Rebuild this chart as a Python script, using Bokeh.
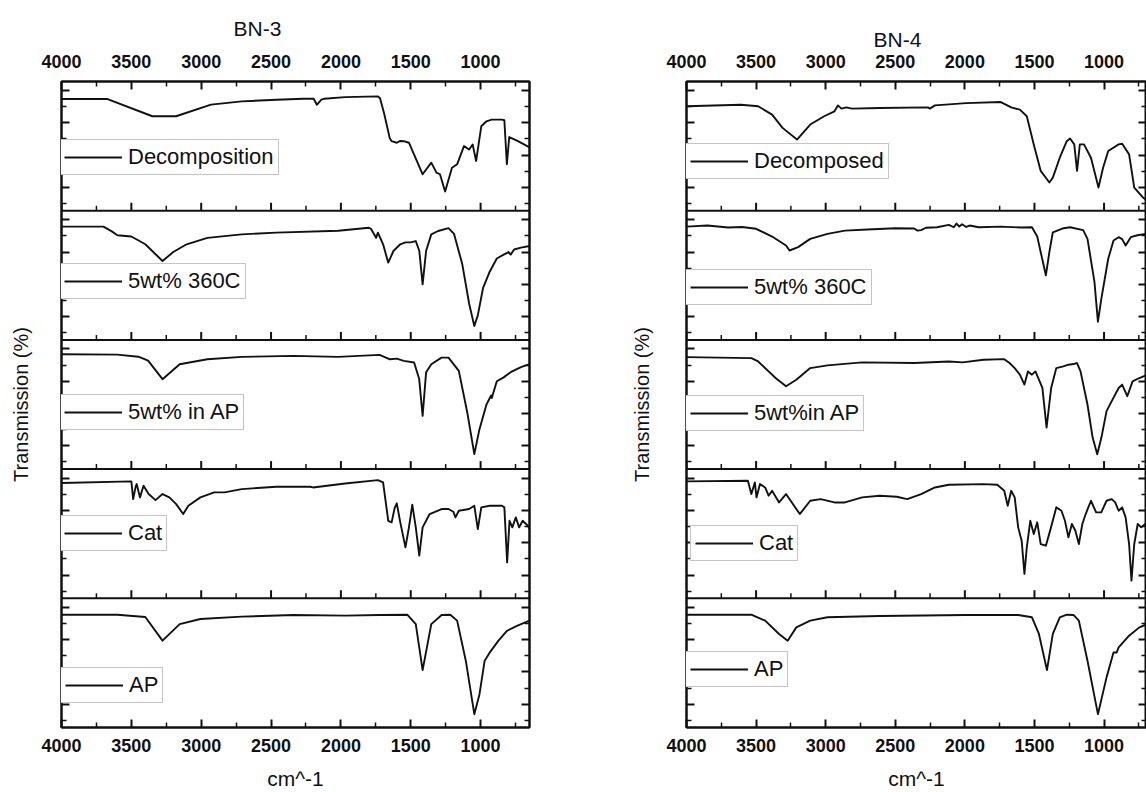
from bokeh.plotting import figure
from bokeh.models import (Range1d, LinearAxis, FixedTicker, Legend, LegendItem,
                          Span, CustomJSTickFormatter)
from bokeh.layouts import row
from bokeh.embed import file_html
from bokeh.resources import INLINE

# ---------------------------------------------------------------------------
# FTIR spectra: wavenumber (cm^-1) and relative transmission inside each strip
# ---------------------------------------------------------------------------

# BN-3
bn3_decomp_wn = [4000, 3670, 3350, 3180, 2930, 2710, 2460, 2270, 2195, 2172, 2140, 2118, 1970, 1735,
                 1720, 1690, 1650, 1637, 1600, 1575, 1550, 1513, 1415, 1353, 1316, 1291, 1254, 1205,
                 1168, 1119, 1082, 1057, 1032, 995, 958, 921, 847, 830, 812, 795, 736, 650]
bn3_decomp_t = [0.864, 0.864, 0.731, 0.731, 0.821, 0.846, 0.859, 0.867, 0.867, 0.82, 0.86, 0.867, 0.879, 0.885,
                0.87, 0.75, 0.56, 0.538, 0.526, 0.54, 0.538, 0.526, 0.282, 0.372, 0.295, 0.282, 0.149, 0.333,
                0.359, 0.5, 0.474, 0.513, 0.385, 0.654, 0.692, 0.705, 0.705, 0.70, 0.36, 0.57, 0.54, 0.49]

bn3_360c_wn = [4000, 3700, 3640, 3600, 3500, 3400, 3277, 3200, 3104, 2956, 2710, 2463, 2019, 1800, 1785,
               1748, 1735, 1698, 1661, 1624, 1575, 1538, 1501, 1464, 1439, 1415, 1390, 1353, 1304, 1230,
               1190, 1131, 1082, 1045, 1020, 983, 934, 884, 835, 800, 785, 760, 711, 650]
bn3_360c_t = [0.877, 0.877, 0.84, 0.81, 0.80, 0.74, 0.611, 0.68, 0.74, 0.79, 0.817, 0.83, 0.845, 0.868, 0.86,
              0.79, 0.83, 0.74, 0.598, 0.688, 0.74, 0.755, 0.755, 0.765, 0.69, 0.43, 0.69, 0.817, 0.843, 0.865,
              0.82, 0.585, 0.28, 0.108, 0.19, 0.40, 0.53, 0.63, 0.66, 0.68, 0.66, 0.70, 0.714, 0.727]

bn3_inap_wn = [4000, 3600, 3450, 3380, 3277, 3154, 2956, 2710, 2340, 2019, 1723, 1649, 1600, 1550, 1476,
               1440, 1415, 1390, 1353, 1280, 1230, 1156, 1094, 1045, 1010, 958, 925, 920, 884, 835,
               785, 711, 650]
bn3_inap_t = [0.889, 0.886, 0.87, 0.84, 0.696, 0.812, 0.85, 0.869, 0.876, 0.869, 0.884, 0.85, 0.855, 0.838, 0.825,
              0.70, 0.412, 0.75, 0.812, 0.863, 0.863, 0.76, 0.43, 0.116, 0.30, 0.50, 0.57, 0.55, 0.68, 0.71,
              0.75, 0.79, 0.812]

bn3_cat_wn = [4000, 3500, 3487, 3470, 3462, 3438, 3413, 3376, 3327, 3277, 3228, 3179, 3129, 3092, 3006,
              2907, 2833, 2710, 2463, 2220, 2200, 1970, 1735, 1698, 1661, 1637, 1615, 1600, 1575, 1538,
              1513, 1489, 1464, 1439, 1415, 1365, 1279, 1230, 1195, 1180, 1156, 1082, 1045, 1020, 995,
              934, 847, 830, 810, 793, 773, 748, 724, 699, 662, 650]
bn3_cat_t = [0.892, 0.905, 0.768, 0.86, 0.884, 0.781, 0.871, 0.807, 0.76, 0.807, 0.781, 0.729, 0.652, 0.716, 0.781,
             0.82, 0.82, 0.845, 0.863, 0.863, 0.858, 0.889, 0.915, 0.897, 0.60, 0.588, 0.70, 0.735, 0.588, 0.394,
             0.549, 0.724, 0.549, 0.33, 0.549, 0.652, 0.691, 0.691, 0.67, 0.626, 0.678, 0.691, 0.716, 0.536, 0.704,
             0.716, 0.716, 0.704, 0.278, 0.60, 0.549, 0.626, 0.549, 0.60, 0.562, 0.536]

bn3_ap_wn = [4000, 3600, 3400, 3277, 3154, 3006, 2710, 2340, 1970, 1723, 1525, 1464, 1415, 1353, 1279,
             1217, 1168, 1106, 1045, 1008, 971, 934, 872, 810, 736, 650]
bn3_ap_t = [0.873, 0.873, 0.855, 0.672, 0.80, 0.84, 0.858, 0.871, 0.866, 0.871, 0.873, 0.80, 0.444, 0.80, 0.871,
            0.873, 0.827, 0.517, 0.103, 0.258, 0.517, 0.581, 0.672, 0.749, 0.788, 0.827]

# BN-4
bn4_decomp_wn = [4000, 3609, 3485, 3385, 3310, 3206, 3111, 3011, 2937, 2912, 2887, 2850, 2812, 2613, 2265,
                 2252, 2215, 1991, 1742, 1667, 1605, 1555, 1505, 1455, 1393, 1368, 1318, 1268, 1244, 1214,
                 1194, 1174, 1144, 1094, 1040, 1007, 970, 895, 870, 820, 783, 721, 690]
bn4_decomp_t = [0.808, 0.82, 0.808, 0.744, 0.641, 0.551, 0.667, 0.731, 0.769, 0.815, 0.79, 0.80, 0.79, 0.795, 0.80,
                0.79, 0.815, 0.833, 0.841, 0.80, 0.782, 0.731, 0.513, 0.308, 0.218, 0.256, 0.41, 0.538, 0.559, 0.513,
                0.308, 0.513, 0.513, 0.41, 0.179, 0.333, 0.462, 0.513, 0.518, 0.436, 0.179, 0.103, 0.077]

bn4_360c_wn = [4000, 3850, 3700, 3600, 3500, 3385, 3285, 3260, 3198, 3111, 2987, 2862, 2700, 2500, 2364,
               2340, 2314, 2280, 2200, 2115, 2080, 2060, 2040, 2020, 1990, 1966, 1900, 1742, 1600, 1518,
               1480, 1455, 1418, 1393, 1368, 1300, 1244, 1150, 1119, 1069, 1044, 1019, 970, 932, 895,
               870, 845, 808, 760, 700]
bn4_360c_t = [0.877, 0.885, 0.87, 0.874, 0.86, 0.80, 0.731, 0.692, 0.718, 0.782, 0.821, 0.846, 0.855, 0.864, 0.862,
              0.846, 0.85, 0.868, 0.872, 0.89, 0.872, 0.9, 0.878, 0.895, 0.874, 0.885, 0.872, 0.877, 0.87, 0.872,
              0.80, 0.679, 0.50, 0.679, 0.833, 0.862, 0.872, 0.85, 0.782, 0.449, 0.141, 0.321, 0.628, 0.769, 0.795,
              0.78, 0.731, 0.795, 0.81, 0.821]

bn4_inap_wn = [4000, 3534, 3485, 3410, 3360, 3285, 3211, 3111, 2987, 2738, 2364, 2115, 2016, 1866, 1717,
               1679, 1642, 1605, 1572, 1547, 1518, 1493, 1443, 1413, 1380, 1343, 1293, 1256, 1219, 1194,
               1169, 1119, 1082, 1049, 1019, 982, 945, 895, 870, 833, 795, 746, 690]
bn4_inap_t = [0.867, 0.859, 0.833, 0.756, 0.705, 0.641, 0.692, 0.782, 0.803, 0.826, 0.821, 0.833, 0.826, 0.846, 0.851,
              0.821, 0.782, 0.731, 0.654, 0.756, 0.731, 0.756, 0.628, 0.321, 0.628, 0.782, 0.795, 0.808, 0.813, 0.821,
              0.756, 0.50, 0.244, 0.115, 0.244, 0.449, 0.526, 0.628, 0.654, 0.564, 0.679, 0.705, 0.731]

bn4_cat_wn = [4000, 3559, 3534, 3509, 3497, 3472, 3435, 3410, 3385, 3335, 3285, 3186, 3111, 3036, 2937,
              2862, 2738, 2613, 2489, 2414, 2314, 2215, 2115, 1866, 1767, 1717, 1692, 1667, 1642, 1617,
              1592, 1572, 1555, 1530, 1505, 1480, 1455, 1418, 1381, 1343, 1306, 1281, 1256, 1231, 1206,
              1181, 1156, 1132, 1094, 1057, 1020, 982, 945, 920, 895, 870, 845, 820, 803, 783,
              758, 733, 690]
bn4_cat_t = [0.905, 0.91, 0.807, 0.897, 0.781, 0.884, 0.858, 0.794, 0.832, 0.742, 0.807, 0.652, 0.755, 0.768, 0.742,
             0.742, 0.781, 0.794, 0.786, 0.768, 0.807, 0.858, 0.879, 0.884, 0.879, 0.832, 0.716, 0.832, 0.781, 0.549,
             0.446, 0.188, 0.394, 0.60, 0.497, 0.588, 0.42, 0.407, 0.549, 0.704, 0.678, 0.60, 0.472, 0.575, 0.523,
             0.42, 0.575, 0.652, 0.755, 0.665, 0.665, 0.755, 0.768, 0.742, 0.678, 0.704, 0.626, 0.42, 0.137, 0.42,
             0.575, 0.549, 0.588]

bn4_ap_wn = [4000, 3534, 3435, 3335, 3273, 3211, 3111, 2987, 2613, 1991, 1617, 1518, 1468, 1410, 1368,
             1318, 1268, 1220, 1181, 1119, 1044, 982, 932, 910, 895, 820, 746, 690]
bn4_ap_t = [0.873, 0.873, 0.827, 0.724, 0.672, 0.775, 0.827, 0.853, 0.863, 0.871, 0.871, 0.853, 0.724, 0.444, 0.724,
            0.853, 0.873, 0.871, 0.827, 0.517, 0.103, 0.388, 0.581, 0.58, 0.62, 0.711, 0.775, 0.80]

bn3_labels = ["Decomposition", "5wt% 360C", "5wt% in AP", "Cat", "AP"]
bn4_labels = ["Decomposed", "5wt% 360C", "5wt%in AP", "Cat", "AP"]

x_major = [4000, 3500, 3000, 2500, 2000, 1500, 1000]
x_minor = [3750, 3250, 2750, 2250, 1750, 1250, 750]
x_title = "cm^-1"
y_title = "Transmission (%)"

# ---------------------------------------------------------------------------
# styling / geometry
# ---------------------------------------------------------------------------
FONT = "Liberation Sans"
INK = "#111111"
HEIGHT = 792
FRAME_TOP = 81
FRAME_BOTTOM = 727
N_STRIPS = 5
STRIP_PX = (FRAME_BOTTOM - FRAME_TOP) / N_STRIPS
MAJOR_LEN = 8
MINOR_LEN = 5
# tick positions inside one strip (fraction of the strip height, from its bottom)
STRIP_TICK_FRAC = [0.055 + 0.125 * j for j in range(8)]

blank = CustomJSTickFormatter(code="return ''")


def y_ticker():
    major, minor = [], []
    for b in range(N_STRIPS):
        for j, f in enumerate(STRIP_TICK_FRAC):
            (major if j % 2 == 1 else minor).append(b + f)
    return FixedTicker(ticks=major, minor_ticks=minor)


def style_axis(ax):
    ax.axis_line_color = INK
    ax.axis_line_width = 2
    ax.major_tick_line_color = INK
    ax.minor_tick_line_color = INK
    ax.major_tick_line_width = 2
    ax.minor_tick_line_width = 1.5
    ax.major_tick_out = 0
    ax.minor_tick_out = 0
    ax.major_tick_in = MAJOR_LEN
    ax.minor_tick_in = MINOR_LEN


def x_axis(with_title, label_standoff):
    ax = LinearAxis(ticker=FixedTicker(ticks=x_major, minor_ticks=x_minor))
    style_axis(ax)
    ax.major_label_text_font = FONT
    ax.major_label_text_font_style = "bold"
    ax.major_label_text_font_size = "18px"
    ax.major_label_text_color = INK
    ax.major_label_standoff = label_standoff
    if with_title:
        ax.axis_label = x_title
        ax.axis_label_text_font = FONT
        ax.axis_label_text_font_style = "normal"
        ax.axis_label_text_font_size = "21px"
        ax.axis_label_text_color = INK
        ax.axis_label_standoff = 12
    return ax


def y_axis(with_title, standoff=0):
    ax = LinearAxis(ticker=y_ticker(), formatter=blank)
    style_axis(ax)
    ax.major_label_standoff = 0
    if with_title:
        ax.axis_label = y_title
        ax.axis_label_text_font = FONT
        ax.axis_label_text_font_style = "normal"
        ax.axis_label_text_font_size = "20px"
        ax.axis_label_text_color = INK
        ax.axis_label_standoff = standoff
    return ax


def build_panel(title, series, labels, x_end, width, frame_left, frame_right,
                title_offset, title_standoff, ylab_standoff, legend_locs):
    p = figure(width=width, height=HEIGHT, x_range=Range1d(4000, x_end),
               y_range=Range1d(0, N_STRIPS), output_backend="svg", toolbar_location=None,
               x_axis_location=None, y_axis_location=None,
               min_border_left=frame_left, min_border_right=width - frame_right,
               min_border_top=FRAME_TOP, min_border_bottom=HEIGHT - FRAME_BOTTOM,
               background_fill_color="white", border_fill_color="white")
    p.outline_line_color = INK
    p.outline_line_width = 2
    p.xgrid.visible = False
    p.ygrid.visible = False

    p.title.text = title
    p.title.text_font = FONT
    p.title.text_font_style = "normal"
    p.title.text_font_size = "21px"
    p.title.text_color = INK
    p.title.align = "left"
    p.title.offset = title_offset
    p.title.standoff = title_standoff

    p.add_layout(x_axis(False, 14), "above")
    p.add_layout(x_axis(True, 11), "below")
    p.add_layout(y_axis(True, ylab_standoff), "left")
    p.add_layout(y_axis(False), "right")

    # strip separators with their upward ticks
    for k in range(1, N_STRIPS):
        p.add_layout(Span(location=k, dimension="width", line_color=INK, line_width=2))
    seps = range(1, N_STRIPS)
    p.segment(x0=[x for k in seps for x in x_major], x1=[x for k in seps for x in x_major],
              y0=[k for k in seps for x in x_major],
              y1=[k + MAJOR_LEN / STRIP_PX for k in seps for x in x_major],
              line_color=INK, line_width=2)
    p.segment(x0=[x for k in seps for x in x_minor], x1=[x for k in seps for x in x_minor],
              y0=[k for k in seps for x in x_minor],
              y1=[k + MINOR_LEN / STRIP_PX for k in seps for x in x_minor],
              line_color=INK, line_width=1.5)

    # one strip per spectrum, top to bottom, each on its own y scale
    for i, ((wn, t), label) in enumerate(zip(series, labels)):
        b = N_STRIPS - 1 - i
        name = f"strip{i}"
        p.extra_y_ranges[name] = Range1d(start=-b, end=N_STRIPS - b)
        r = p.line(wn, t, y_range_name=name, line_color=INK, line_width=1.9, line_join="round")
        leg = Legend(items=[LegendItem(label=label, renderers=[r])], location=legend_locs[i],
                     margin=0, padding=4, spacing=0, glyph_width=58, glyph_height=16,
                     label_height=16, label_standoff=6,
                     label_text_font=FONT, label_text_font_size="22px", label_text_color=INK,
                     border_line_color="#8a8a8a", border_line_width=1.5,
                     background_fill_color="white", background_fill_alpha=1.0)
        p.add_layout(leg)
    return p


left = build_panel(
    "BN-3",
    [(bn3_decomp_wn, bn3_decomp_t), (bn3_360c_wn, bn3_360c_t), (bn3_inap_wn, bn3_inap_t),
     (bn3_cat_wn, bn3_cat_t), (bn3_ap_wn, bn3_ap_t)],
    bn3_labels, x_end=650, width=620, frame_left=61, frame_right=529,
    title_offset=172, title_standoff=24, ylab_standoff=30,
    legend_locs=[(-2, 552), (-2, 428), (-2, 297), (-2, 176), (-1, 24)])

right = build_panel(
    "BN-4",
    [(bn4_decomp_wn, bn4_decomp_t), (bn4_360c_wn, bn4_360c_t), (bn4_inap_wn, bn4_inap_t),
     (bn4_cat_wn, bn4_cat_t), (bn4_ap_wn, bn4_ap_t)],
    bn4_labels, x_end=695, width=526, frame_left=66, frame_right=526,
    title_offset=187, title_standoff=2, ylab_standoff=34,
    legend_locs=[(-1, 548), (-1, 422), (-1, 296), (4, 166), (-1, 40)])

layout = row(left, right)
open("out.html", "w").write(file_html(layout, INLINE))
